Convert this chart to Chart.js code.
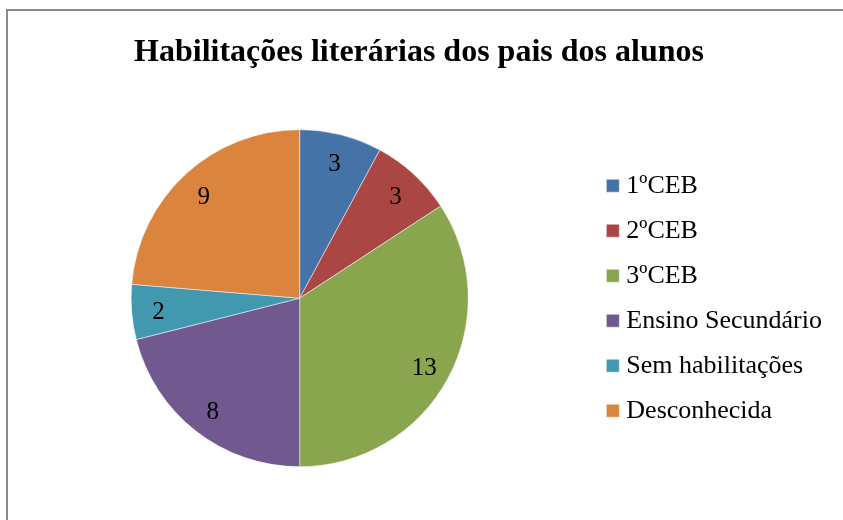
<!DOCTYPE html>
<html>
<head>
<meta charset="utf-8">
<script src="https://cdn.jsdelivr.net/npm/chart.js@4"></script>
<style>
  html, body { margin: 0; padding: 0; background: #fff; }
  #wrap { position: relative; width: 843px; height: 520px; overflow: hidden; }
  #frame { position: absolute; left: 6px; top: 9px; width: 900px; height: 600px;
           border-left: 2px solid #8c8c8c; border-top: 2px solid #8c8c8c; }
  canvas { position: absolute; left: 0; top: 0; }
</style>
</head>
<body>
<div id="wrap">
  <div id="frame"></div>
  <canvas id="pie-chart" width="843" height="520"></canvas>
</div>
<script>
const categories = ['1ºCEB', '2ºCEB', '3ºCEB', 'Ensino Secundário', 'Sem habilitações', 'Desconhecida'];
const counts = [3, 3, 13, 8, 2, 9];
const sliceColors = ['#4572A7', '#AA4643', '#89A54E', '#71588F', '#4198AF', '#DB843D'];

const serif = '"Liberation Serif", "Times New Roman", serif';

// numbers drawn inside each slice, like the excel data labels
const sliceLabels = {
  id: 'sliceLabels',
  afterDatasetsDraw(chart) {
    const ctx = chart.ctx;
    const meta = chart.getDatasetMeta(0);
    ctx.save();
    ctx.font = '25px ' + serif;
    ctx.fillStyle = '#000';
    ctx.textAlign = 'center';
    ctx.textBaseline = 'middle';
    meta.data.forEach((arc, i) => {
      const p = arc.getProps(['x', 'y', 'startAngle', 'endAngle', 'outerRadius'], true);
      const mid = (p.startAngle + p.endAngle) / 2;
      const r = p.outerRadius * 0.84;
      ctx.fillText(String(counts[i]), p.x + Math.cos(mid) * r, p.y + Math.sin(mid) * r + 3);
    });
    ctx.restore();
  }
};

function drawChart() {
  const ctx = document.getElementById('pie-chart').getContext('2d');
  new Chart(ctx, {
    type: 'pie',
    data: {
      labels: categories,
      datasets: [{
        data: counts,
        backgroundColor: sliceColors,
        borderColor: '#ffffff',
        borderWidth: 0.5
      }]
    },
    options: {
      responsive: false,
      animation: false,
      layout: { padding: { left: 6, right: 11, top: 0, bottom: 53 } },
      plugins: {
        title: {
          display: true,
          text: 'Habilitações literárias dos pais dos alunos',
          color: '#000',
          font: { family: serif, size: 32, weight: 'bold' },
          padding: { top: 34, bottom: 57 }
        },
        legend: {
          position: 'right',
          fullSize: false,
          labels: {
            color: '#000',
            usePointStyle: true,
            pointStyle: 'rect',
            boxWidth: 1,
            boxHeight: 13,
            padding: 19,
            font: { family: serif, size: 26 }
          }
        },
        tooltip: { enabled: false }
      }
    },
    plugins: [sliceLabels]
  });
}

document.addEventListener('DOMContentLoaded', () => {
  drawChart();
});
</script>
</body>
</html>
